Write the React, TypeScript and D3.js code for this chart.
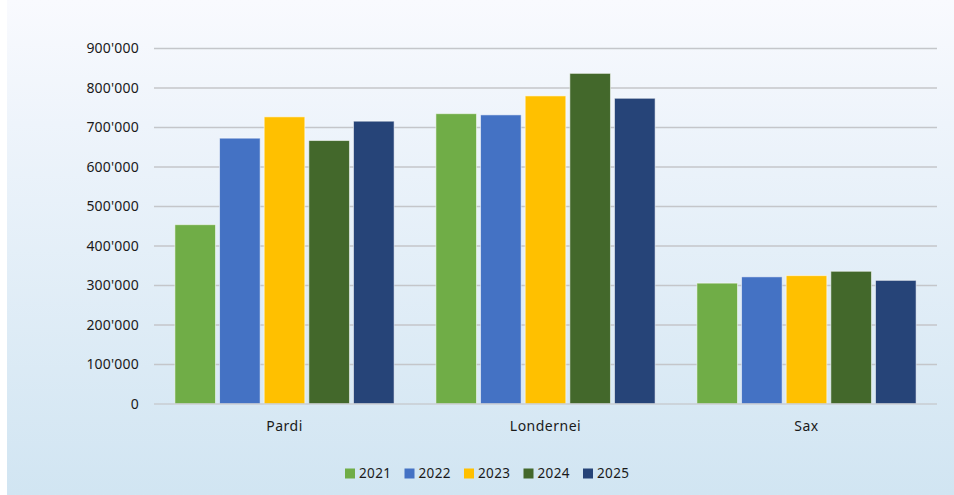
import * as d3 from "d3";
import { useEffect, useRef } from "react";

// ---- data ----
const categories = ["Pardi", "Londernei", "Sax"];
const years = ["2021", "2022", "2023", "2024", "2025"];
const values2021 = [454000, 735000, 306000];
const values2022 = [673000, 732000, 322000];
const values2023 = [727000, 780000, 325000];
const values2024 = [667000, 837000, 336000];
const values2025 = [716000, 774000, 313000];
const yTicks = [0, 100000, 200000, 300000, 400000, 500000, 600000, 700000, 800000, 900000];
const colors = ["#70ad47", "#4472c4", "#ffc000", "#43682b", "#264478"];

export default function App() {
  const ref = useRef<SVGSVGElement | null>(null);

  useEffect(() => {
    const width = 954;
    const height = 495;
    const margin = { top: 48.5, right: 17, bottom: 91, left: 154 };
    const innerW = width - margin.left - margin.right;
    const innerH = height - margin.top - margin.bottom;

    const series = [values2021, values2022, values2023, values2024, values2025];

    const svg = d3.select(ref.current);
    svg.selectAll("*").remove();
    svg.attr("viewBox", `0 0 ${width} ${height}`);

    // background gradient
    const defs = svg.append("defs");
    const grad = defs
      .append("linearGradient")
      .attr("id", "bg")
      .attr("x1", 0)
      .attr("y1", 0)
      .attr("x2", 0)
      .attr("y2", 1);
    grad.append("stop").attr("offset", "0%").attr("stop-color", "#f9fafe");
    grad.append("stop").attr("offset", "25%").attr("stop-color", "#eef4fb");
    grad.append("stop").attr("offset", "100%").attr("stop-color", "#d1e5f2");

    svg.append("rect").attr("x", 0).attr("y", 0).attr("width", width).attr("height", height).attr("fill", "#ffffff");
    svg.append("rect").attr("x", 7).attr("y", 0).attr("width", width - 7).attr("height", height).attr("fill", "url(#bg)");

    const g = svg.append("g").attr("transform", `translate(${margin.left},${margin.top})`);

    // scales
    const x0 = d3.scaleBand().domain(categories).range([0, innerW]).paddingInner(0.16).paddingOuter(0.08);
    const x1 = d3.scaleBand().domain(years).range([0, x0.bandwidth()]).paddingInner(0.09);
    const y = d3.scaleLinear().domain([0, 900000]).range([innerH, 0]);

    const fmt = (d: number) => (d === 0 ? "0" : d3.format(",")(d).replace(/,/g, "'"));

    // gridlines
    g.append("g")
      .selectAll("line")
      .data(yTicks.filter((d) => d !== 0))
      .join("line")
      .attr("x1", 0)
      .attr("x2", innerW)
      .attr("y1", (d) => y(d))
      .attr("y2", (d) => y(d))
      .attr("stroke", "#c4c6ca")
      .attr("stroke-width", 1.3);

    // y axis labels
    const yAxis = g
      .append("g")
      .call(d3.axisLeft(y).tickValues(yTicks).tickFormat((d) => fmt(d as number)).tickSize(0).tickPadding(15));
    yAxis.select(".domain").remove();
    yAxis
      .selectAll("text")
      .attr("font-family", "'Noto Sans', sans-serif")
      .attr("font-size", 14)
      .attr("letter-spacing", 0.2)
      .attr("fill", "#1a1a1a");

    // bars
    g.append("g")
      .selectAll("g")
      .data(categories)
      .join("g")
      .attr("transform", (d) => `translate(${x0(d)},0)`)
      .selectAll("rect")
      .data((_, ci) => years.map((yr, si) => ({ yr, v: series[si][ci], c: colors[si] })))
      .join("rect")
      .attr("x", (d) => x1(d.yr)!)
      .attr("y", (d) => y(d.v))
      .attr("width", x1.bandwidth())
      .attr("height", (d) => innerH - y(d.v))
      .attr("fill", (d) => d.c)
      .attr("stroke", "rgba(255,255,255,0.55)")
      .attr("stroke-width", 1);

    // baseline
    g.append("line")
      .attr("x1", 0)
      .attr("x2", innerW)
      .attr("y1", innerH)
      .attr("y2", innerH)
      .attr("stroke", "#c9cdd2")
      .attr("stroke-width", 1.5);

    // x axis labels
    const xAxis = g
      .append("g")
      .attr("transform", `translate(0,${innerH})`)
      .call(d3.axisBottom(x0).tickSize(0).tickPadding(17));
    xAxis.select(".domain").remove();
    xAxis
      .selectAll("text")
      .attr("font-family", "'Noto Sans', sans-serif")
      .attr("font-size", 14)
      .attr("letter-spacing", 0.5)
      .attr("fill", "#1a1a1a");

    // legend
    const legendStart = 345;
    const legendStep = 59.5;
    const legend = svg
      .append("g")
      .selectAll("g")
      .data(years)
      .join("g")
      .attr("transform", (_, i) => `translate(${legendStart + i * legendStep},473.5)`);
    legend.append("rect").attr("x", 0).attr("y", -5).attr("width", 10).attr("height", 10).attr("fill", (_, i) => colors[i]);
    legend
      .append("text")
      .attr("x", 14)
      .attr("dy", "0.35em")
      .attr("font-family", "'Noto Sans', sans-serif")
      .attr("font-size", 13.5)
      .attr("letter-spacing", 0.4)
      .attr("fill", "#1a1a1a")
      .text((d) => d);
  }, []);

  return (
    <svg
      ref={ref}
      width={954}
      height={495}
      style={{ position: "absolute", left: 0, top: 0, display: "block" }}
    />
  );
}
